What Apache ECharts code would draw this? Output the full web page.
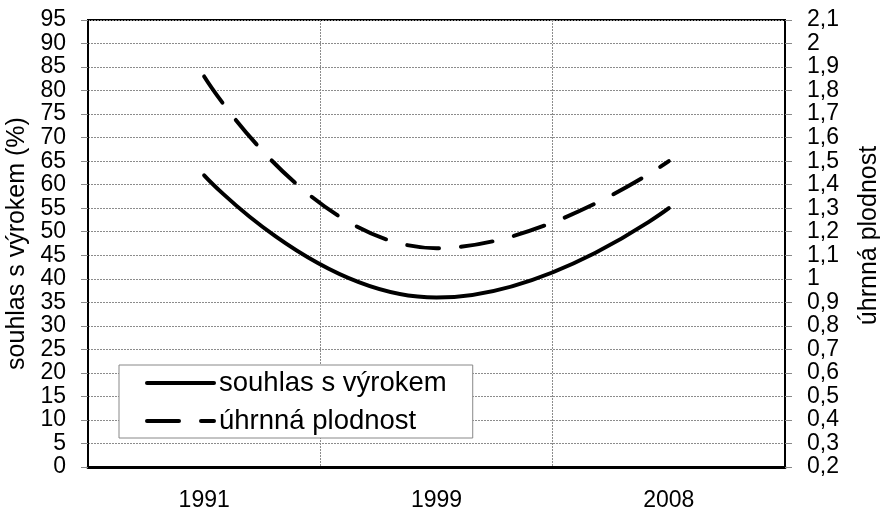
<!DOCTYPE html>
<html>
<head>
<meta charset="utf-8">
<script src="https://cdn.jsdelivr.net/npm/echarts@6/dist/echarts.min.js"></script>
<style>
  html, body { margin: 0; padding: 0; background: #fff; }
  #chart { width: 880px; height: 512px; }
</style>
</head>
<body>
<div id="chart"></div>
<script>
// data
const years = ['1991', '1999', '2008'];
const souhlas = [62, 36, 55];          // souhlas s výrokem (%), left axis
const plodnost = [1.86, 1.13, 1.50];   // úhrnná plodnost, right axis

const font = "'Liberation Sans', Arial, sans-serif";
const gridLine = { color: '#8c8c8c', width: 1, type: [2, 1] };

const chart = echarts.init(document.getElementById('chart'));

const option = {
  animation: false,
  textStyle: { fontFamily: font, color: '#000' },
  grid: {
    left: 88, right: 95, top: 20, bottom: 45,
    outerBoundsMode: 'none',
    containLabel: false,
    show: true, borderColor: '#000', borderWidth: 2
  },
  legend: {
    orient: 'vertical',
    left: 119, top: 365,
    padding: [4, 26, 3, 26],
    itemGap: 10,
    itemWidth: 67, itemHeight: 14,
    borderColor: '#888', borderWidth: 1,
    backgroundColor: '#fff',
    // hide the marker circle, keep only the line
    itemStyle: { opacity: 0 },
    lineStyle: { width: 4, cap: 'round' },
    textStyle: { fontSize: 27.5, lineHeight: 26, color: '#000', fontFamily: font },
    data: ['souhlas s výrokem', 'úhrnná plodnost']
  },
  xAxis: {
    type: 'category',
    data: years,
    boundaryGap: true,
    axisLine: { lineStyle: { color: '#000', width: 3 } },
    axisTick: { length: 8, lineStyle: { color: '#888', width: 1 } },
    axisLabel: { fontSize: 23, color: '#000', margin: 22 },
    splitLine: { show: true, lineStyle: gridLine }
  },
  yAxis: [{
    type: 'value',
    min: 0, max: 95, interval: 5,
    name: 'souhlas s výrokem (%)',
    nameLocation: 'middle',
    nameGap: 56,
    nameTextStyle: { fontSize: 25, color: '#000' },
    axisLine: { show: true, lineStyle: { color: '#000', width: 2 } },
    axisTick: { show: true, length: 7, lineStyle: { color: '#888' } },
    axisLabel: { fontSize: 23, color: '#000', margin: 22 },
    splitLine: { show: true, lineStyle: gridLine }
  }, {
    type: 'value',
    min: 0.2, max: 2.1, interval: 0.1,
    name: 'úhrnná plodnost',
    nameLocation: 'middle',
    nameGap: 72,
    nameRotate: 90,
    nameTextStyle: { fontSize: 25, color: '#000', padding: [0, 0, 0, 16] },
    axisLine: { show: true, lineStyle: { color: '#000', width: 2 } },
    axisTick: { show: true, length: 7, lineStyle: { color: '#888' } },
    axisLabel: {
      fontSize: 23, color: '#000', margin: 22,
      formatter: v => String(Math.round(v * 10) / 10).replace('.', ',')
    },
    splitLine: { show: false }
  }],
  series: [{
    name: 'souhlas s výrokem',
    type: 'line',
    yAxisIndex: 0,
    data: souhlas,
    smooth: 0.5,
    symbol: 'none',
    lineStyle: { color: '#000', width: 4, cap: 'round' },
    itemStyle: { color: '#000' }
  }, {
    name: 'úhrnná plodnost',
    type: 'line',
    yAxisIndex: 1,
    data: plodnost,
    smooth: 0.5,
    symbol: 'none',
    lineStyle: { color: '#000', width: 4, type: [32, 22], cap: 'round' },
    itemStyle: { color: '#000' }
  }]
};

chart.setOption(option);
</script>
</body>
</html>
